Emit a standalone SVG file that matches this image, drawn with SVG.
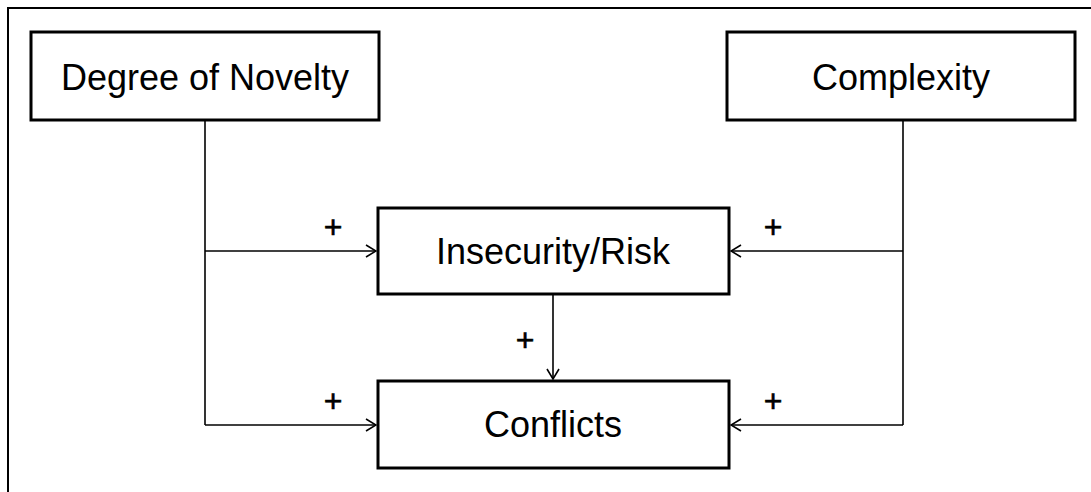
<svg xmlns="http://www.w3.org/2000/svg" width="1091" height="492" viewBox="0 0 1091 492">
  <style>
    .box { fill: #ffffff; stroke: #000000; stroke-width: 3; }
    .label { font-family: "Liberation Sans", Arial, sans-serif; font-size: 36px; fill: #000000; text-anchor: middle; }
    .sign { font-family: "Liberation Sans", Arial, sans-serif; font-size: 32px; fill: #000000; stroke: #000000; stroke-width: 0.6; text-anchor: middle; }
    .link { fill: none; stroke: #000000; stroke-width: 1.6; }
    .frame { fill: none; stroke: #000000; stroke-width: 2; }
  </style>
  <defs>
    <marker id="open" viewBox="0 0 12 14" refX="11" refY="7" markerWidth="12" markerHeight="14" markerUnits="userSpaceOnUse" orient="auto">
      <path d="M1,1 L11,7 L1,13" fill="none" stroke="#000000" stroke-width="1.6"/>
    </marker>
  </defs>
  <rect width="1091" height="492" fill="#ffffff"/>
  <path class="frame" d="M8,492 L8,8 L1091,8"/>

  <g id="connectors">
    <path class="link" d="M205,121 L205,425"/>
    <path class="link" d="M205,251 L376,251" marker-end="url(#open)"/>
    <path class="link" d="M205,425 L376,425" marker-end="url(#open)"/>
    <path class="link" d="M903,121 L903,425"/>
    <path class="link" d="M903,251 L731,251" marker-end="url(#open)"/>
    <path class="link" d="M903,425 L731,425" marker-end="url(#open)"/>
    <path class="link" d="M553,294 L553,379" marker-end="url(#open)"/>
    <text class="sign" x="333" y="238">+</text>
    <text class="sign" x="333" y="412">+</text>
    <text class="sign" x="773" y="238">+</text>
    <text class="sign" x="773" y="412">+</text>
    <text class="sign" x="525" y="351">+</text>
  </g>

  <g id="novelty">
    <rect class="box" x="31" y="32" width="348" height="88"/>
    <text class="label" x="205" y="90">Degree of Novelty</text>
  </g>
  <g id="complexity">
    <rect class="box" x="727" y="32" width="348" height="88"/>
    <text class="label" x="901" y="90">Complexity</text>
  </g>
  <g id="risk">
    <rect class="box" x="378" y="208" width="351" height="86"/>
    <text class="label" x="553" y="264">Insecurity/Risk</text>
  </g>
  <g id="conflicts">
    <rect class="box" x="378" y="381" width="351" height="87"/>
    <text class="label" x="553" y="437">Conflicts</text>
  </g>
</svg>
